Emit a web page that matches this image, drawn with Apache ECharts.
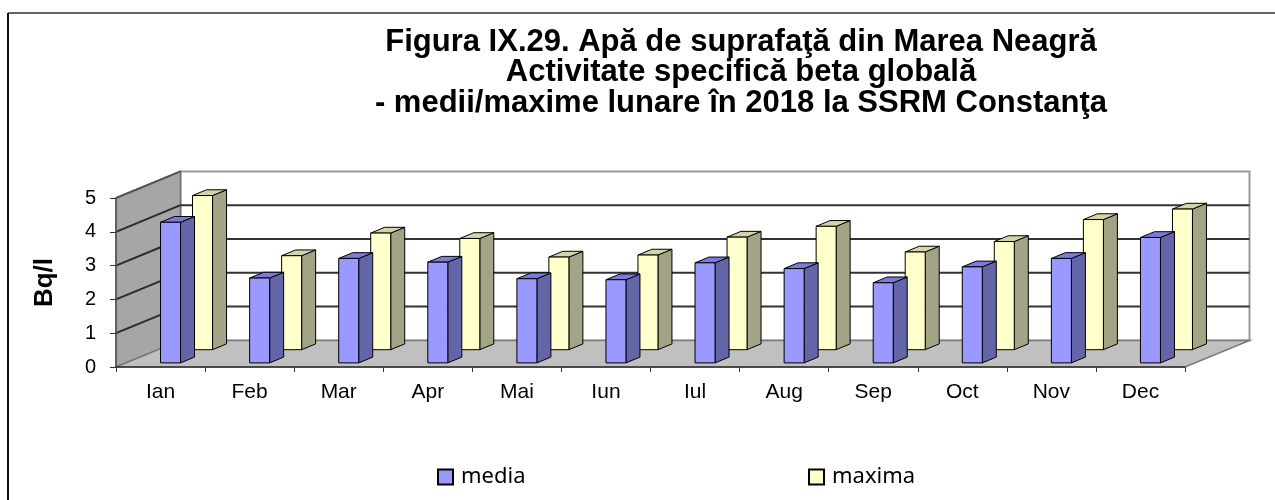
<!DOCTYPE html>
<html>
<head>
<meta charset="utf-8">
<script src="https://cdn.jsdelivr.net/npm/echarts@6/dist/echarts.min.js"></script>
<style>
  html, body { margin: 0; padding: 0; background: #fff; }
  #chart { width: 1275px; height: 500px; }
</style>
</head>
<body>
<div id="chart"></div>
<script>
const months = ['Ian', 'Feb', 'Mar', 'Apr', 'Mai', 'Iun', 'Iul', 'Aug', 'Sep', 'Oct', 'Nov', 'Dec'];
const media = [4.16, 2.51, 3.09, 2.98, 2.49, 2.46, 2.96, 2.79, 2.37, 2.84, 3.09, 3.71];
const maxima = [4.56, 2.78, 3.45, 3.29, 2.74, 2.80, 3.33, 3.65, 2.89, 3.20, 3.85, 4.16];
const yTicks = [0, 1, 2, 3, 4, 5];

const FONT = "'Liberation Sans', Arial, sans-serif";

// oblique 3d projection: full depth of the box in pixels
const DX = 64.5;
const DY = 26.6;
const BAR_HALF = 10;
const BAR_D = 14;

function renderFrame(params, api) {
  const cs = params.coordSys;
  const x0 = cs.x, x1 = cs.x + cs.width;
  const yb = api.coord([0, yTicks[0]])[1];
  const yt = api.coord([0, yTicks[yTicks.length - 1]])[1];
  return {
    type: 'group',
    children: [
      { type: 'polygon', shape: { points: [[x0 + DX, yt - DY], [x1 + DX, yt - DY], [x1 + DX, yb - DY], [x0 + DX, yb - DY]] },
        style: { fill: '#fff', stroke: '#9a9a9a', lineWidth: 2 } },
      { type: 'polygon', shape: { points: [[x0, yb], [x0, yt], [x0 + DX, yt - DY], [x0 + DX, yb - DY]] },
        style: { fill: '#a6a6a6', stroke: '#6e6e6e', lineWidth: 1.5 } },
      { type: 'polygon', shape: { points: [[x0, yb], [x1, yb], [x1 + DX, yb - DY], [x0 + DX, yb - DY]] },
        style: { fill: '#c0c0c0', stroke: '#7a7a7a', lineWidth: 1.5 } }
    ]
  };
}

function renderGridLine(params, api) {
  const cs = params.coordSys;
  const x0 = cs.x, x1 = cs.x + cs.width;
  const v = api.value(1);
  const y = api.coord([0, v])[1];
  if (v === yTicks[0]) return null;
  const edge = v === yTicks[yTicks.length - 1];
  const children = [
    { type: 'line', shape: { x1: x0, y1: y, x2: x0 + DX, y2: y - DY },
      style: { stroke: edge ? '#555' : '#2b2b2b', lineWidth: 2 } }
  ];
  if (!edge) {
    children.push({ type: 'line', shape: { x1: x0 + DX, y1: y - DY, x2: x1 + DX, y2: y - DY },
      style: { stroke: '#333', lineWidth: 2 } });
  }
  return { type: 'group', children: children };
}

function barRenderer(depthOff, front, side, topc) {
  return function (params, api) {
    const cat = api.value(0);
    const base = api.coord([cat, 0]);
    const top = api.coord([cat, api.value(1)]);
    const oy = depthOff * DY / DX;
    const by = BAR_D * DY / DX;
    const xl = base[0] - BAR_HALF + depthOff;
    const xr = base[0] + BAR_HALF + depthOff;
    const yb = base[1] - oy;
    const yt = top[1] - oy;
    const line = { stroke: '#000', lineWidth: 1 };
    return {
      type: 'group',
      children: [
        { type: 'polygon', shape: { points: [[xr, yb], [xr + BAR_D, yb - by], [xr + BAR_D, yt - by], [xr, yt]] },
          style: Object.assign({ fill: side }, line) },
        { type: 'polygon', shape: { points: [[xl, yt], [xr, yt], [xr + BAR_D, yt - by], [xl + BAR_D, yt - by]] },
          style: Object.assign({ fill: topc }, line) },
        { type: 'rect', shape: { x: xl, y: yt, width: xr - xl, height: yb - yt },
          style: Object.assign({ fill: front }, line) }
      ]
    };
  };
}

const chart = echarts.init(document.getElementById('chart'));

chart.setOption({
  animation: false,
  backgroundColor: '#fff',
  title: {
    text: 'Figura IX.29. Apă de suprafaţă din Marea Neagră\nActivitate specifică beta globală\n- medii/maxime lunare în 2018 la SSRM Constanţa',
    left: 741,
    top: 27,
    padding: 0,
    textAlign: 'center',
    textStyle: { fontFamily: FONT, fontSize: 31, fontWeight: 'bold', color: '#000', lineHeight: 30.5 }
  },
  legend: [
    { data: ['media'], left: 437, top: 466, padding: 0, icon: 'rect', itemWidth: 15, itemHeight: 15,
      textStyle: { fontFamily: "'Noto Sans', sans-serif", fontSize: 22, color: '#000', padding: [0, 0, 0, 3] } },
    { data: ['maxima'], left: 808, top: 466, padding: 0, icon: 'rect', itemWidth: 15, itemHeight: 15,
      textStyle: { fontFamily: "'Noto Sans', sans-serif", fontSize: 22, color: '#000', padding: [0, 0, 0, 3] } }
  ],
  grid: { left: 116, right: 90, top: 198, bottom: 133 },
  xAxis: {
    type: 'category',
    data: months,
    z: 10,
    axisLine: { show: true, lineStyle: { color: '#333', width: 1.5 } },
    axisTick: { show: true, length: 5, lineStyle: { color: '#333' } },
    axisLabel: { fontFamily: FONT, fontSize: 21, color: '#000', margin: 15 },
    splitLine: { show: false }
  },
  yAxis: {
    type: 'value',
    min: 0,
    max: 5,
    interval: 1,
    z: 10,
    name: 'Bq/l',
    nameLocation: 'middle',
    nameRotate: 90,
    nameGap: 58,
    nameTextStyle: { fontFamily: FONT, fontSize: 26, fontWeight: 'bold', color: '#000' },
    axisLine: { show: true, lineStyle: { color: '#555', width: 1.5 } },
    axisTick: { show: true, length: 6, lineStyle: { color: '#333' } },
    axisLabel: { fontFamily: FONT, fontSize: 20, color: '#000', margin: 20 },
    splitLine: { show: false }
  },
  graphic: [
    { type: 'line', shape: { x1: 8, y1: 13, x2: 1275, y2: 13 }, style: { stroke: '#666', lineWidth: 2 } },
    { type: 'line', shape: { x1: 8, y1: 13, x2: 8, y2: 500 }, style: { stroke: '#111', lineWidth: 2 } }
  ],
  series: [
    { type: 'custom', name: 'frame', renderItem: renderFrame, data: [[0, 0]], silent: true, z: 1 },
    { type: 'custom', name: 'grid', renderItem: renderGridLine, data: yTicks.map(v => [0, v]), silent: true, z: 2 },
    { type: 'custom', name: 'maxima', renderItem: barRenderer(42, '#ffffcc', '#a3a386', '#d4d4a6'),
      data: maxima.map((v, i) => [i, v]), z: 3,
      itemStyle: { color: '#ffffcc', borderColor: '#000', borderWidth: 1.5 } },
    { type: 'custom', name: 'media', renderItem: barRenderer(10, '#9999ff', '#6464a8', '#7b7bdc'),
      data: media.map((v, i) => [i, v]), z: 4,
      itemStyle: { color: '#9999ff', borderColor: '#000', borderWidth: 1.5 } }
  ]
});
</script>
</body>
</html>
